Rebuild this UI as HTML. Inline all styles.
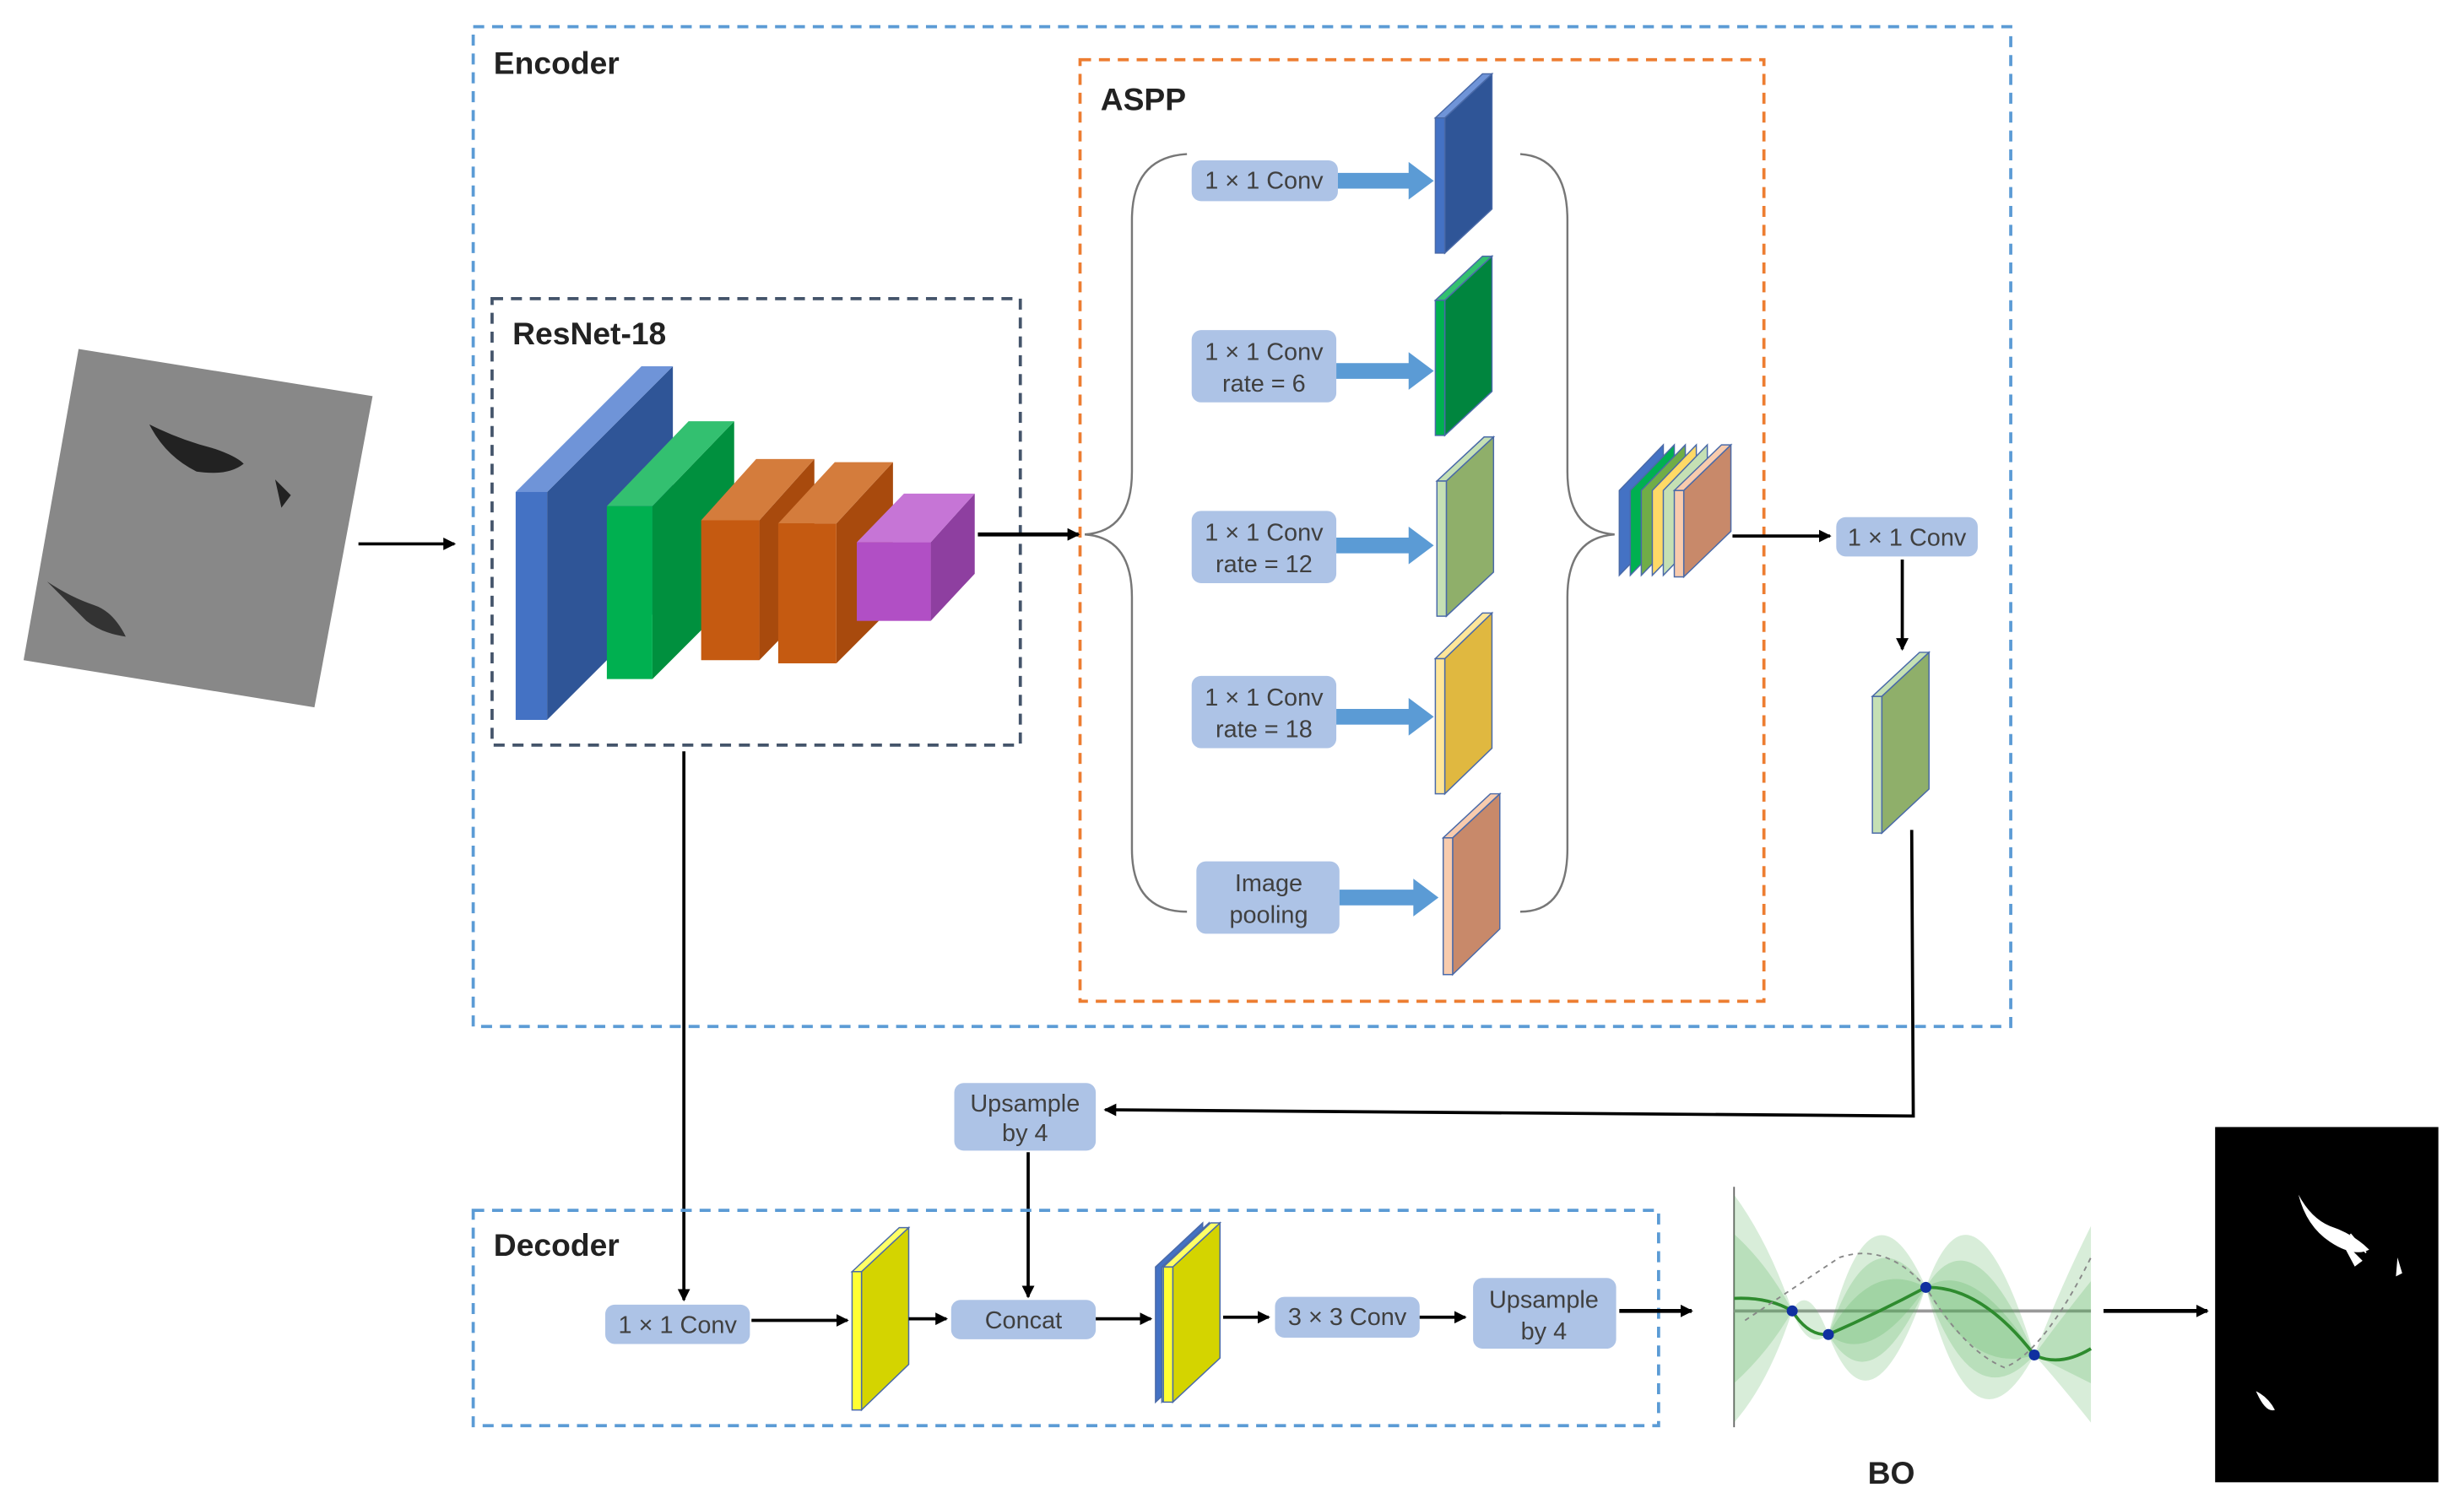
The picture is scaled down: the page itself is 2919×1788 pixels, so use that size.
<!DOCTYPE html>
<html><head><meta charset="utf-8"><style>
html,body{margin:0;padding:0;background:#fff;}
svg{display:block;}
text{font-family:"Liberation Sans",sans-serif;}
.lb{font-size:20px;font-weight:bold;fill:#222;}
.bx{fill:#adc3e6;}
.bt{font-size:15.5px;fill:#404040;text-anchor:middle;}
</style></head><body>
<svg width="2919" height="1788" viewBox="0 0 1567.3 960" preserveAspectRatio="none" xmlns="http://www.w3.org/2000/svg">
<defs>
<marker id="ah" markerWidth="8" markerHeight="8" refX="7" refY="4" orient="auto" markerUnits="userSpaceOnUse"><path d="M0,0 L8,4 L0,8 z" fill="#000"/></marker>
</defs>
<rect width="1570" height="960" fill="#fff"/>
<!-- input image -->
<polygon points="50,222 237,252 200,450 15,420" fill="#888"/>
<path d="M95,270 q20,10 40,15 q15,5 20,10 q-10,8 -30,5 q-20,-10 -30,-30z" fill="#222"/>
<path d="M30,370 q15,10 30,15 q12,4 20,20 q-15,-2 -25,-10z" fill="#333"/>
<path d="M175,305 l10,10 l-6,8z" fill="#222"/>
<line x1="228" y1="346" x2="289" y2="346" stroke="#000" stroke-width="2" marker-end="url(#ah)"/>
<!-- boxes -->
<rect x="301" y="17" width="978" height="636" fill="none" stroke="#5b9bd5" stroke-width="2" stroke-dasharray="7,5"/>
<text x="314" y="47" class="lb">Encoder</text>
<rect x="687" y="38" width="435" height="599" fill="none" stroke="#ed7d31" stroke-width="2" stroke-dasharray="7,5"/>
<text x="700" y="70" class="lb">ASPP</text>
<rect x="313" y="190" width="336" height="284" fill="none" stroke="#44546a" stroke-width="2" stroke-dasharray="7,5"/>
<text x="326" y="219" class="lb">ResNet-18</text>
<!-- resnet blocks -->
<polygon points="348,313 428,233 428,378 348,458" fill="#2f5597"/>
<polygon points="328,313 408,233 428,233 348,313" fill="#6f94d8"/>
<rect x="328" y="313" width="20" height="145" fill="#4472c4"/>
<polygon points="415,322 467,268 467,380 415,432" fill="#00903e"/>
<polygon points="386,322 438,268 467,268 415,322" fill="#33c070"/>
<rect x="386" y="322" width="29" height="110" fill="#00b050"/>
<polygon points="483,331 518,292 518,384 483,420" fill="#a84a0d"/>
<polygon points="446,331 481,292 518,292 483,331" fill="#d47c3c"/>
<rect x="446" y="331" width="37" height="89" fill="#c55a11"/>
<polygon points="532,333 568,294 568,386 532,422" fill="#a84a0d"/>
<polygon points="495,333 531,294 568,294 532,333" fill="#d47c3c"/>
<rect x="495" y="333" width="37" height="89" fill="#c55a11"/>
<polygon points="592,345 620,314 620,365 592,395" fill="#8e3fa0"/>
<polygon points="545,345 575,314 620,314 592,345" fill="#c675d6"/>
<rect x="545" y="345" width="47" height="50" fill="#b14fc5"/>
<line x1="622" y1="340" x2="686" y2="340" stroke="#000" stroke-width="2.5" marker-end="url(#ah)"/>
<!-- braces -->
<path d="M755,98 Q720,100 720,140 L720,300 Q720,338 690,340 Q720,342 720,380 L720,540 Q720,580 755,580" fill="none" stroke="#777" stroke-width="1.3"/>
<path d="M967,98 Q997,100 997,140 L997,300 Q997,338 1027,340 Q997,342 997,380 L997,540 Q997,580 967,580" fill="none" stroke="#777" stroke-width="1.3"/>
<!-- ASPP label boxes -->
<rect x="758" y="102" width="93" height="26" rx="6" class="bx"/><text x="804" y="120" class="bt">1 × 1 Conv</text>
<rect x="758" y="210" width="92" height="46" rx="6" class="bx"/><text x="804" y="229" class="bt">1 × 1 Conv</text><text x="804" y="249" class="bt">rate = 6</text>
<rect x="758" y="325" width="92" height="46" rx="6" class="bx"/><text x="804" y="344" class="bt">1 × 1 Conv</text><text x="804" y="364" class="bt">rate = 12</text>
<rect x="758" y="430" width="92" height="46" rx="6" class="bx"/><text x="804" y="449" class="bt">1 × 1 Conv</text><text x="804" y="469" class="bt">rate = 18</text>
<rect x="761" y="548" width="91" height="46" rx="6" class="bx"/><text x="807" y="567" class="bt">Image</text><text x="807" y="587" class="bt">pooling</text>
<!-- thick blue arrows -->
<g fill="#5b9bd5">
<path d="M851,110 h45 v-7 l16,12 l-16,12 v-7 h-45z"/>
<path d="M850,231 h46 v-7 l16,12 l-16,12 v-7 h-46z"/>
<path d="M850,342 h46 v-7 l16,12 l-16,12 v-7 h-46z"/>
<path d="M850,451 h46 v-7 l16,12 l-16,12 v-7 h-46z"/>
<path d="M852,566 h47 v-7 l16,12 l-16,12 v-7 h-47z"/>
</g>
<!-- ASPP slabs -->
<g stroke="#4a6aa8" stroke-width="0.8">
<polygon points="919,75 949,47 949,133 919,161" fill="#2f5597"/><rect x="913" y="75" width="6" height="86" fill="#4472c4"/><polygon points="913,75 943,47 949,47 919,75" fill="#6f94d8"/>
<polygon points="919,191 949,163 949,249 919,277" fill="#00853e"/><rect x="913" y="191" width="6" height="86" fill="#00b050"/><polygon points="913,191 943,163 949,163 919,191" fill="#33c070"/>
<polygon points="920,306 950,278 950,364 920,392" fill="#8faf6a"/><rect x="914" y="306" width="6" height="86" fill="#c5e0b4"/><polygon points="914,306 944,278 950,278 920,306" fill="#c5e0b4"/>
<polygon points="919,419 949,390 949,476 919,505" fill="#e0b840"/><rect x="913" y="419" width="6" height="86" fill="#ffe699"/><polygon points="913,419 943,390 949,390 919,419" fill="#ffe699"/>
<polygon points="924,533 954,505 954,591 924,620" fill="#c8896a"/><rect x="918" y="533" width="6" height="87" fill="#f8cbad"/><polygon points="918,533 948,505 954,505 924,533" fill="#f8cbad"/>
</g>
<!-- concat stack -->
<g stroke="#4a6aa8" stroke-width="0.8">
<polygon points="1030,312 1058,283 1058,337 1030,366" fill="#4472c4"/>
<polygon points="1037,312 1065,283 1065,337 1037,366" fill="#00b050"/>
<polygon points="1044,312 1072,283 1072,337 1044,366" fill="#70ad47"/>
<polygon points="1051,312 1079,283 1079,337 1051,366" fill="#ffd966"/>
<polygon points="1058,312 1086,283 1086,337 1058,366" fill="#c5e0b4"/>
<polygon points="1071,312 1101,283 1101,338 1071,367" fill="#c8896a"/>
<rect x="1065" y="312" width="6" height="55" fill="#f8cbad"/>
<polygon points="1065,312 1095,283 1101,283 1071,312" fill="#f8cbad"/>
</g>
<line x1="1102" y1="341" x2="1164" y2="341" stroke="#000" stroke-width="2" marker-end="url(#ah)"/>
<rect x="1168" y="329" width="90" height="25" rx="6" class="bx"/><text x="1213" y="347" class="bt">1 × 1 Conv</text>
<line x1="1210" y1="356" x2="1210" y2="413" stroke="#000" stroke-width="2" marker-end="url(#ah)"/>
<g stroke="#4a6aa8" stroke-width="0.8">
<polygon points="1197,443 1227,415 1227,502 1197,530" fill="#8faf6a"/><rect x="1191" y="443" width="6" height="87" fill="#c5e0b4"/><polygon points="1191,443 1221,415 1227,415 1197,443" fill="#c5e0b4"/>
</g>
<polyline points="1216,528 1217,710 703,706" fill="none" stroke="#000" stroke-width="2" marker-end="url(#ah)"/>
<rect x="607" y="689" width="90" height="43" rx="6" class="bx"/><text x="652" y="707" class="bt">Upsample</text><text x="652" y="726" class="bt">by 4</text>
<line x1="654" y1="733" x2="654" y2="825" stroke="#000" stroke-width="2" marker-end="url(#ah)"/>
<line x1="435" y1="478" x2="435" y2="827" stroke="#000" stroke-width="2" marker-end="url(#ah)"/>
<!-- decoder -->
<rect x="301" y="770" width="754" height="137" fill="none" stroke="#5b9bd5" stroke-width="2" stroke-dasharray="7,5"/>
<text x="314" y="799" class="lb">Decoder</text>
<rect x="385" y="830" width="92" height="25" rx="6" class="bx"/><text x="431" y="848" class="bt">1 × 1 Conv</text>
<line x1="478" y1="840" x2="539" y2="840" stroke="#000" stroke-width="2" marker-end="url(#ah)"/>
<g stroke="#4a6aa8" stroke-width="0.8">
<polygon points="548,809 578,781 578,868 548,897" fill="#d4d400"/><rect x="542" y="809" width="6" height="88" fill="#ffff33"/><polygon points="542,809 572,781 578,781 548,809" fill="#ffff66"/>
</g>
<line x1="578" y1="839" x2="602" y2="839" stroke="#000" stroke-width="2" marker-end="url(#ah)"/>
<rect x="605" y="827" width="92" height="25" rx="6" class="bx"/><text x="651" y="845" class="bt">Concat</text>
<line x1="697" y1="839" x2="732" y2="839" stroke="#000" stroke-width="2" marker-end="url(#ah)"/>
<g stroke="#4a6aa8" stroke-width="0.8">
<polygon points="735,806 765,778 765,864 735,892" fill="#4472c4"/>
<polygon points="739,806 769,778 769,864 739,892" fill="#a9d18e"/>
<polygon points="746,806 776,778 776,864 746,892" fill="#d4d400"/>
<rect x="740" y="806" width="6" height="86" fill="#ffff33"/>
<polygon points="740,806 770,778 776,778 746,806" fill="#ffff66"/>
</g>
<line x1="778" y1="838" x2="807" y2="838" stroke="#000" stroke-width="2" marker-end="url(#ah)"/>
<rect x="811" y="825" width="92" height="26" rx="6" class="bx"/><text x="857" y="843" class="bt">3 × 3 Conv</text>
<line x1="903" y1="838" x2="932" y2="838" stroke="#000" stroke-width="2" marker-end="url(#ah)"/>
<rect x="937" y="813" width="91" height="45" rx="6" class="bx"/><text x="982" y="832" class="bt">Upsample</text><text x="982" y="852" class="bt">by 4</text>
<line x1="1030" y1="834" x2="1076" y2="834" stroke="#000" stroke-width="2.5" marker-end="url(#ah)"/>
<!-- BO plot -->
<g>
<line x1="1103" y1="755" x2="1103" y2="908" stroke="#666" stroke-width="1"/>
<line x1="1103" y1="834" x2="1330" y2="834" stroke="#999" stroke-width="2"/>
<g fill="#4caf50" fill-opacity="0.22">
<path d="M1103,760 Q1125,790 1140,834 Q1125,880 1103,905z"/>
<path d="M1103,785 Q1125,805 1140,834 Q1125,860 1103,880z"/>
<path d="M1140,834 Q1150,815 1163,849 Q1150,860 1140,834z"/>
<path d="M1163,849 Q1190,740 1225,819 Q1190,920 1163,849z"/>
<path d="M1163,849 Q1190,770 1225,819 Q1190,895 1163,849z"/>
<path d="M1163,849 Q1190,800 1225,819 Q1190,870 1163,849z"/>
<path d="M1225,819 Q1255,735 1294,862 Q1255,935 1225,819z"/>
<path d="M1225,819 Q1255,770 1294,862 Q1255,905 1225,819z"/>
<path d="M1225,819 Q1255,800 1294,862 Q1255,875 1225,819z"/>
<path d="M1294,862 Q1310,820 1330,780 L1330,905 Q1310,880 1294,862z"/>
<path d="M1294,862 Q1310,840 1330,815 L1330,880 Q1310,870 1294,862z"/>
</g>
<path d="M1103,826 Q1125,825 1140,834 Q1150,850 1163,849 Q1195,835 1225,819 Q1260,818 1294,862 Q1310,870 1330,858" fill="none" stroke="#2e8b2e" stroke-width="2"/>
<path d="M1110,840 Q1140,820 1170,800 Q1200,790 1225,819 Q1250,860 1275,870 Q1300,860 1330,800" fill="none" stroke="#888" stroke-width="1" stroke-dasharray="3,3"/>
<circle cx="1140" cy="834" r="3.5" fill="#1030a0"/><circle cx="1163" cy="849" r="3.5" fill="#1030a0"/><circle cx="1225" cy="819" r="3.5" fill="#1030a0"/><circle cx="1294" cy="862" r="3.5" fill="#1030a0"/>
</g>
<text x="1188" y="944" class="lb">BO</text>
<line x1="1338" y1="834" x2="1404" y2="834" stroke="#000" stroke-width="2.5" marker-end="url(#ah)"/>
<!-- output -->
<rect x="1409" y="717" width="142" height="226" fill="#000"/>
<path d="M1462,760 q8,15 20,20 q15,5 25,15 q-10,5 -25,-5 q-15,-10 -20,-30z" fill="#fff"/>
<path d="M1490,790 l8,15 l4,-3 z M1495,785 l10,12" fill="#fff" stroke="#fff"/>
<path d="M1525,800 l3,10 l-4,2z" fill="#fff"/>
<path d="M1435,885 q8,4 12,12 q-6,2 -12,-12z" fill="#fff"/>
</svg>
</body></html>
